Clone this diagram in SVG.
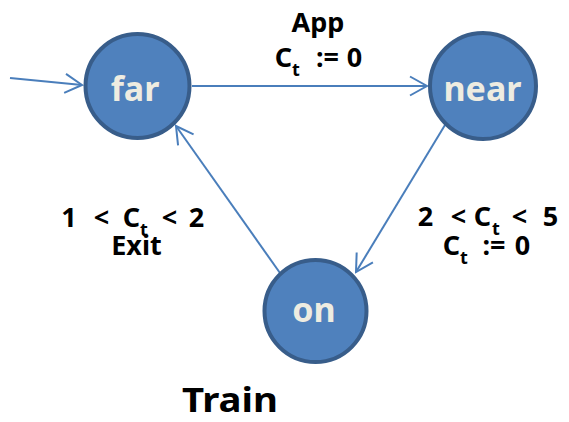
<svg xmlns="http://www.w3.org/2000/svg" width="569" height="422" viewBox="0 0 569 422">
<style>
.node circle{fill:#4F81BD;stroke:#385D8A;stroke-width:4}
.node text{font-family:"Noto Sans","Open Sans",sans-serif;font-weight:bold;font-size:34px;fill:#EEECE1;text-anchor:middle}
.edge{stroke:#4A7EBB;stroke-width:2;fill:none;marker-end:url(#arr)}
.lbl{font-family:"Noto Sans","Open Sans",sans-serif;font-weight:bold;font-size:27px;fill:#000;text-anchor:middle}
.lbl tspan{text-anchor:middle}
.sub{font-size:18px}
</style>
<defs>
<marker id="arr" markerUnits="userSpaceOnUse" viewBox="-20 -12 22 24" refX="0" refY="0" markerWidth="22" markerHeight="24" orient="auto">
<path d="M-17,-9.5 L0,0 L-17,9.5" fill="none" stroke="#4A7EBB" stroke-width="2"/>
</marker>
</defs>
<g id="connectors">
<line class="edge" x1="10" y1="78" x2="82" y2="85"/>
<line class="edge" x1="192" y1="86" x2="427" y2="86"/>
<line class="edge" x1="445" y1="125" x2="356" y2="272"/>
<line class="edge" x1="280" y1="273" x2="176" y2="126"/>
</g>
<g id="far" class="node"><circle cx="137.5" cy="86" r="52"/><text x="135" y="101">far</text></g>
<g id="near" class="node"><circle cx="483" cy="86" r="53"/><text x="482.5" y="101">near</text></g>
<g id="on" class="node"><circle cx="315.5" cy="311" r="51"/><text x="314" y="322">on</text></g>
<g id="labels">
<text class="lbl" x="318" y="32">App</text>
<text class="lbl" y="67"><tspan x="283.5">C</tspan><tspan class="sub" x="296" y="76">t</tspan><tspan x="327.5" y="67">:=</tspan><tspan x="354.5">0</tspan></text>
<text class="lbl" y="227"><tspan x="69">1</tspan><tspan x="101.5">&lt;</tspan><tspan x="131.5">C</tspan><tspan class="sub" x="144" y="236">t</tspan><tspan x="169.5" y="227">&lt;</tspan><tspan x="196.5">2</tspan></text>
<text class="lbl" x="136.5" y="255">Exit</text>
<text class="lbl" y="226"><tspan x="425.5">2</tspan><tspan x="458.5">&lt;</tspan><tspan x="482.5">C</tspan><tspan class="sub" x="496" y="235">t</tspan><tspan x="519.5" y="226">&lt;</tspan><tspan x="550.5">5</tspan></text>
<text class="lbl" y="255"><tspan x="451.5">C</tspan><tspan class="sub" x="464" y="264">t</tspan><tspan x="494" y="255">:=</tspan><tspan x="522.5">0</tspan></text>
<text class="lbl" x="230" y="412" style="font-size:34px" textLength="96" lengthAdjust="spacingAndGlyphs">Train</text>
</g>
</svg>
